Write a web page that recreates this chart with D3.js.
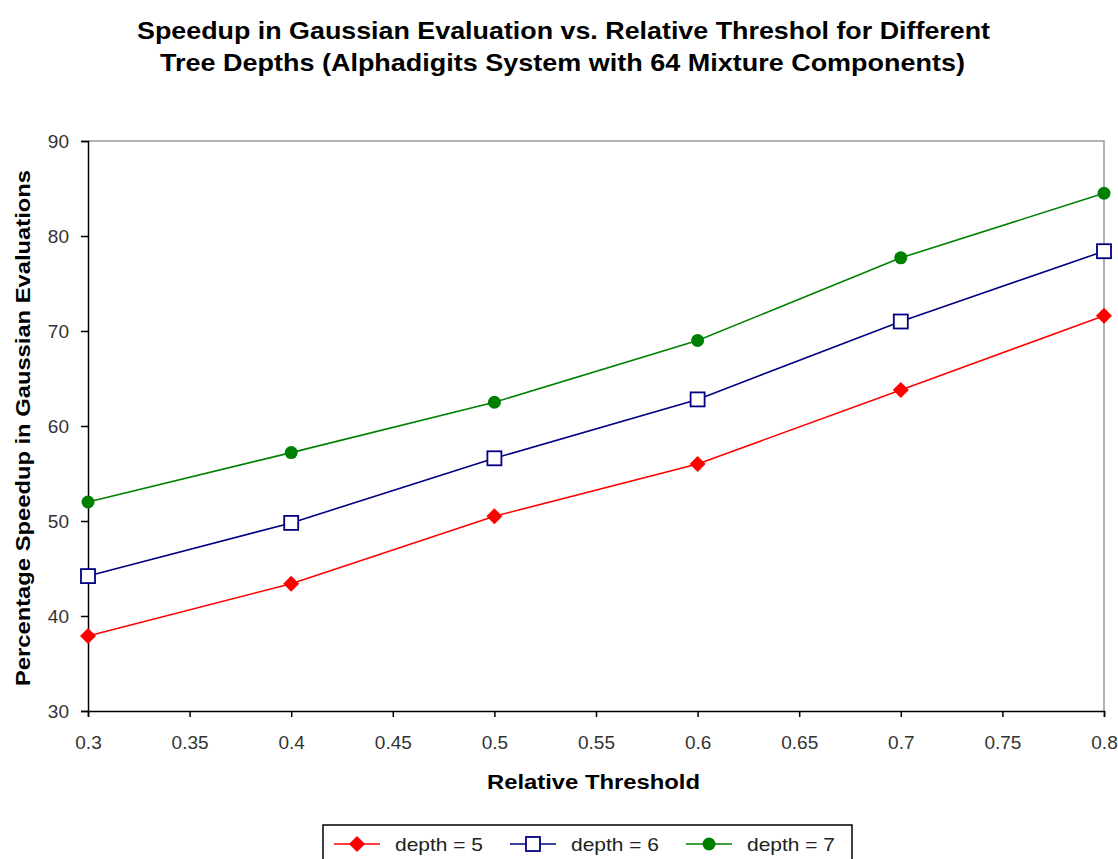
<!DOCTYPE html>
<html>
<head>
<meta charset="utf-8">
<script src="https://cdn.jsdelivr.net/npm/d3@7"></script>
<style>
  body { margin: 0; background: #fff; }
  svg text { font-family: "Liberation Sans", Arial, sans-serif; }
</style>
</head>
<body>
<svg id="chart" width="1118" height="859"></svg>
<script>
var thresholds = [0.3, 0.4, 0.5, 0.6, 0.7, 0.8];
var depth5 = [37.9, 43.4, 50.5, 56.0, 63.8, 71.6];
var depth6 = [44.2, 49.8, 56.6, 62.8, 71.0, 78.4];
var depth7 = [52.0, 57.2, 62.5, 69.0, 77.7, 84.5];
var seriesNames = ["depth = 5", "depth = 6", "depth = 7"];
var xTicks = [0.3, 0.35, 0.4, 0.45, 0.5, 0.55, 0.6, 0.65, 0.7, 0.75, 0.8];
var yTicks = [30, 40, 50, 60, 70, 80, 90];

var series = [
    { name: seriesNames[0], values: depth5, color: "#ff0000", marker: "diamond" },
    { name: seriesNames[1], values: depth6, color: "#000080", marker: "square" },
    { name: seriesNames[2], values: depth7, color: "#008000", marker: "circle" }
];

var svg = d3.select("#chart"),
    plotLeft = 88, plotRight = 1104, plotTop = 141, plotBottom = 711;

var x = d3.scaleLinear().domain([0.3, 0.8]).range([plotLeft, plotRight]);
var y = d3.scaleLinear().domain([30, 90]).range([plotBottom, plotTop]);

// plot area border (top + right are light grey)
svg.append("path")
    .attr("d", "M" + plotLeft + "," + plotTop + "H" + plotRight + "V" + plotBottom)
    .attr("fill", "none")
    .attr("stroke", "#999")
    .attr("stroke-width", 1.5);

var xAxis = svg.append("g")
    .attr("transform", "translate(0," + plotBottom + ")")
    .call(d3.axisBottom(x).tickValues(xTicks).tickSize(6).tickPadding(19)
        .tickFormat(function(d) { return String(+d.toFixed(2)); }));

var yAxis = svg.append("g")
    .attr("transform", "translate(" + plotLeft + ",0)")
    .call(d3.axisLeft(y).tickValues(yTicks).tickSize(7).tickPadding(12));

[xAxis, yAxis].forEach(function(a) {
    a.select(".domain").attr("stroke", "#000").attr("stroke-width", 1.5);
    a.selectAll(".tick line").attr("stroke", "#000").attr("stroke-width", 1.5);
    a.selectAll(".tick text").attr("font-size", 19).attr("fill", "#333")
        .style("font-family", "\"Liberation Sans\", Arial, sans-serif");
});

var line = d3.line()
    .x(function(d, i) { return x(thresholds[i]); })
    .y(function(d) { return y(d); });

function drawMarker(g, type, color, cx, cy) {
    if (type == "diamond") {
        g.append("path")
            .attr("d", "M" + cx + "," + (cy - 8) + "L" + (cx + 8) + "," + cy +
                       "L" + cx + "," + (cy + 8) + "L" + (cx - 8) + "," + cy + "Z")
            .attr("fill", color);
    } else if (type == "square") {
        g.append("rect")
            .attr("x", cx - 7).attr("y", cy - 7)
            .attr("width", 14).attr("height", 14)
            .attr("fill", "#fff").attr("stroke", color).attr("stroke-width", 1.8);
    } else {
        g.append("circle")
            .attr("cx", cx).attr("cy", cy).attr("r", 6.5)
            .attr("fill", color);
    }
}

series.forEach(function(s) {
    var g = svg.append("g");
    g.append("path")
        .datum(s.values)
        .attr("d", line)
        .attr("fill", "none")
        .attr("stroke", s.color)
        .attr("stroke-width", 1.6);
    s.values.forEach(function(v, i) {
        drawMarker(g, s.marker, s.color, x(thresholds[i]), y(v));
    });
});

// titles (original font is a condensed bold face, so stretch to its widths)
svg.append("text")
    .attr("x", 137).attr("y", 39)
    .attr("font-size", 24).attr("font-weight", "bold")
    .attr("textLength", 853).attr("lengthAdjust", "spacingAndGlyphs")
    .text("Speedup in Gaussian Evaluation vs. Relative Threshol for Different");
svg.append("text")
    .attr("x", 160).attr("y", 71)
    .attr("font-size", 24).attr("font-weight", "bold")
    .attr("textLength", 805).attr("lengthAdjust", "spacingAndGlyphs")
    .text("Tree Depths (Alphadigits System with 64 Mixture Components)");

svg.append("text")
    .attr("x", 487).attr("y", 789)
    .attr("font-size", 20).attr("font-weight", "bold")
    .attr("textLength", 213).attr("lengthAdjust", "spacingAndGlyphs")
    .text("Relative Threshold");

svg.append("text")
    .attr("transform", "translate(30,686) rotate(-90)")
    .attr("font-size", 20).attr("font-weight", "bold")
    .attr("textLength", 516).attr("lengthAdjust", "spacingAndGlyphs")
    .text("Percentage Speedup in Gaussian Evaluations");

// legend
var legend = svg.append("g");
legend.append("rect")
    .attr("x", 323).attr("y", 825)
    .attr("width", 529).attr("height", 40)
    .attr("fill", "#fff").attr("stroke", "#000").attr("stroke-width", 1.5);

var legendX = [334, 510, 686];
series.forEach(function(s, i) {
    var lx = legendX[i];
    legend.append("line")
        .attr("x1", lx).attr("x2", lx + 46)
        .attr("y1", 844).attr("y2", 844)
        .attr("stroke", s.color).attr("stroke-width", 1.6);
    drawMarker(legend, s.marker, s.color, lx + 23, 844);
    legend.append("text")
        .attr("x", lx + 61).attr("y", 851)
        .attr("font-size", 19).attr("fill", "#222")
        .attr("textLength", 88).attr("lengthAdjust", "spacingAndGlyphs")
        .text(s.name);
});
</script>
</body>
</html>
